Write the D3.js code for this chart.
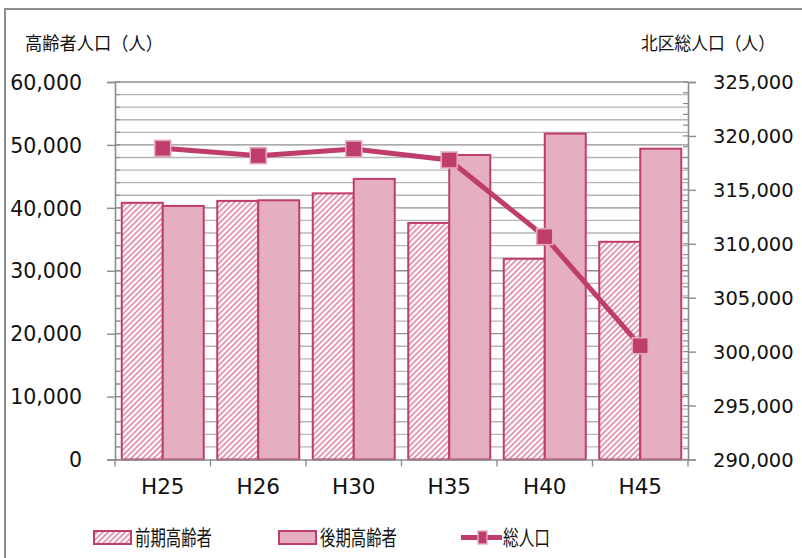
<!DOCTYPE html>
<html>
<head>
<meta charset="utf-8">
<script src="https://cdn.jsdelivr.net/npm/d3@7"></script>
<style>
  html, body { margin: 0; padding: 0; background: #fff; }
  svg { display: block; }
  .num { font-family: "DejaVu Sans", Verdana, sans-serif; fill: #111; }
  .jp { font-family: "Noto Sans CJK JP", sans-serif; fill: #111; }
</style>
</head>
<body>
<svg id="chart" width="802" height="558"></svg>
<script>
// 年度
const categories = ["H25", "H26", "H30", "H35", "H40", "H45"];
// 前期高齢者（人）
const earlyElderly = [40800, 41100, 42300, 37600, 31900, 34600];
// 後期高齢者（人）
const lateElderly = [40300, 41200, 44600, 48400, 51800, 49400];
// 北区総人口（人）
const totalPop = [318850, 318170, 318790, 317770, 310660, 300550];

const leftTicks = [0, 10000, 20000, 30000, 40000, 50000, 60000];
const rightTicks = [290000, 295000, 300000, 305000, 310000, 315000, 320000, 325000];

const svg = d3.select("#chart");
const plot = { left: 115, right: 688, top: 82, bottom: 459.5 };

const x = d3.scaleBand().domain(categories).range([plot.left, plot.right]).paddingInner(0).paddingOuter(0);
const yL = d3.scaleLinear().domain([0, 60000]).range([plot.bottom, plot.top]);
const yR = d3.scaleLinear().domain([290000, 325000]).range([plot.bottom, plot.top]);

const dark = "#bf3d6c";
const solidFill = "#e5afc1";

// hatch pattern for 前期高齢者
const defs = svg.append("defs");
const pat = defs.append("pattern")
  .attr("id", "hatch").attr("patternUnits", "userSpaceOnUse")
  .attr("width", 4).attr("height", 4)
  .attr("patternTransform", "rotate(45)");
pat.append("rect").attr("width", 4).attr("height", 4).attr("fill", "#fff");
pat.append("rect").attr("x", 0).attr("width", 1.6).attr("height", 4).attr("fill", "#de859f");

// outer frame
svg.append("rect").attr("x", 5).attr("y", 9).attr("width", 810).attr("height", 570)
  .attr("fill", "none").attr("stroke", "#8c8c8c").attr("stroke-width", 2);

// gridlines every 2,000
const gridVals = d3.range(0, 60001, 2000);
svg.append("g").selectAll("line").data(gridVals.filter(v => v > 0)).join("line")
  .attr("x1", plot.left).attr("x2", plot.right)
  .attr("y1", d => yL(d)).attr("y2", d => yL(d))
  .attr("stroke", d => d % 10000 === 0 ? "#8f8f8f" : "#b6b6b6")
  .attr("stroke-width", 1.4);

// left axis
const axL = svg.append("g").attr("transform", `translate(${plot.left},0)`)
  .call(d3.axisLeft(yL).tickValues(leftTicks).tickSize(8).tickPadding(25)
    .tickFormat(d3.format(",")));
axL.select(".domain").attr("stroke", "#8c8c8c").attr("stroke-width", 1.6);
axL.selectAll(".tick line").attr("stroke", "#8c8c8c").attr("stroke-width", 1.4);
axL.selectAll(".tick text").attr("class", "num").attr("font-size", 20.5).attr("dy", "0.35em");
// minor inner ticks on left axis
svg.append("g").selectAll("line").data(gridVals).join("line")
  .attr("x1", plot.left).attr("x2", plot.left + 5)
  .attr("y1", d => yL(d)).attr("y2", d => yL(d))
  .attr("stroke", "#8c8c8c").attr("stroke-width", 1.2);

// right axis
const axR = svg.append("g").attr("transform", `translate(${plot.right},0)`)
  .call(d3.axisRight(yR).tickValues(rightTicks).tickSize(8).tickPadding(17)
    .tickFormat(d3.format(",")));
axR.select(".domain").attr("stroke", "#8c8c8c").attr("stroke-width", 1.6);
axR.selectAll(".tick line").attr("stroke", "#8c8c8c").attr("stroke-width", 1.4);
axR.selectAll(".tick text").attr("class", "num").attr("font-size", 19.5).attr("dy", "0.35em");
svg.append("g").selectAll("line").data(d3.range(290000, 325001, 1000)).join("line")
  .attr("x1", plot.right - 5).attr("x2", plot.right)
  .attr("y1", d => yR(d)).attr("y2", d => yR(d))
  .attr("stroke", "#8c8c8c").attr("stroke-width", 1.2);

// bars
const barW = 41;
const groups = svg.append("g").selectAll("g").data(categories).join("g");
groups.append("rect")
  .attr("x", (d) => x(d) + x.bandwidth() / 2 - barW)
  .attr("y", (d, i) => yL(earlyElderly[i]))
  .attr("width", barW)
  .attr("height", (d, i) => yL(0) - yL(earlyElderly[i]))
  .attr("fill", "url(#hatch)").attr("stroke", dark).attr("stroke-width", 2);
groups.append("rect")
  .attr("x", (d) => x(d) + x.bandwidth() / 2)
  .attr("y", (d, i) => yL(lateElderly[i]))
  .attr("width", barW)
  .attr("height", (d, i) => yL(0) - yL(lateElderly[i]))
  .attr("fill", solidFill).attr("stroke", dark).attr("stroke-width", 2);

// bottom axis
const axB = svg.append("g").attr("transform", `translate(0,${plot.bottom})`)
  .call(d3.axisBottom(x).tickSize(0).tickPadding(22));
axB.select(".domain").attr("stroke", "#8c8c8c").attr("stroke-width", 1.6);
axB.selectAll(".tick text").attr("class", "num").attr("font-size", 21.5).attr("dy", "0.6em");
svg.append("g").selectAll("line").data(categories.concat(["_end"])).join("line")
  .attr("x1", (d, i) => plot.left + i * x.bandwidth())
  .attr("x2", (d, i) => plot.left + i * x.bandwidth())
  .attr("y1", plot.bottom).attr("y2", plot.bottom + 7)
  .attr("stroke", "#8c8c8c").attr("stroke-width", 1.4);

// total population line
const cx = d => x(d) + x.bandwidth() / 2;
const line = d3.line().x((d, i) => cx(categories[i])).y(d => yR(d));
svg.append("path").datum(totalPop).attr("d", line)
  .attr("fill", "none").attr("stroke", dark).attr("stroke-width", 5);
svg.append("g").selectAll("rect").data(totalPop).join("rect")
  .attr("x", (d, i) => cx(categories[i]) - 8)
  .attr("y", d => yR(d) - 8)
  .attr("width", 16).attr("height", 16)
  .attr("fill", dark).attr("stroke", "#e3a9bd").attr("stroke-width", 1.6);

// axis titles
svg.append("text").attr("class", "jp").attr("x", 25).attr("y", 50)
  .attr("font-size", 18).attr("textLength", 138).attr("lengthAdjust", "spacingAndGlyphs")
  .text("高齢者人口（人）");
svg.append("text").attr("class", "jp").attr("x", 641).attr("y", 50)
  .attr("font-size", 18).attr("textLength", 134).attr("lengthAdjust", "spacingAndGlyphs")
  .text("北区総人口（人）");

// legend
const lg = svg.append("g");
lg.append("rect").attr("x", 94).attr("y", 531).attr("width", 37).attr("height", 13)
  .attr("fill", "url(#hatch)").attr("stroke", dark).attr("stroke-width", 2);
lg.append("text").attr("class", "jp").attr("x", 135).attr("y", 545)
  .attr("font-size", 21).attr("textLength", 77).attr("lengthAdjust", "spacingAndGlyphs")
  .text("前期高齢者");
lg.append("rect").attr("x", 279).attr("y", 531).attr("width", 37).attr("height", 13)
  .attr("fill", solidFill).attr("stroke", dark).attr("stroke-width", 2);
lg.append("text").attr("class", "jp").attr("x", 320).attr("y", 545)
  .attr("font-size", 21).attr("textLength", 77).attr("lengthAdjust", "spacingAndGlyphs")
  .text("後期高齢者");
lg.append("line").attr("x1", 461).attr("x2", 502).attr("y1", 537.5).attr("y2", 537.5)
  .attr("stroke", dark).attr("stroke-width", 5);
lg.append("rect").attr("x", 478).attr("y", 531).attr("width", 9).attr("height", 13)
  .attr("fill", dark).attr("stroke", "#e3a9bd").attr("stroke-width", 1.4);
lg.append("text").attr("class", "jp").attr("x", 503).attr("y", 545)
  .attr("font-size", 21).attr("textLength", 47).attr("lengthAdjust", "spacingAndGlyphs")
  .text("総人口");
</script>
</body>
</html>
